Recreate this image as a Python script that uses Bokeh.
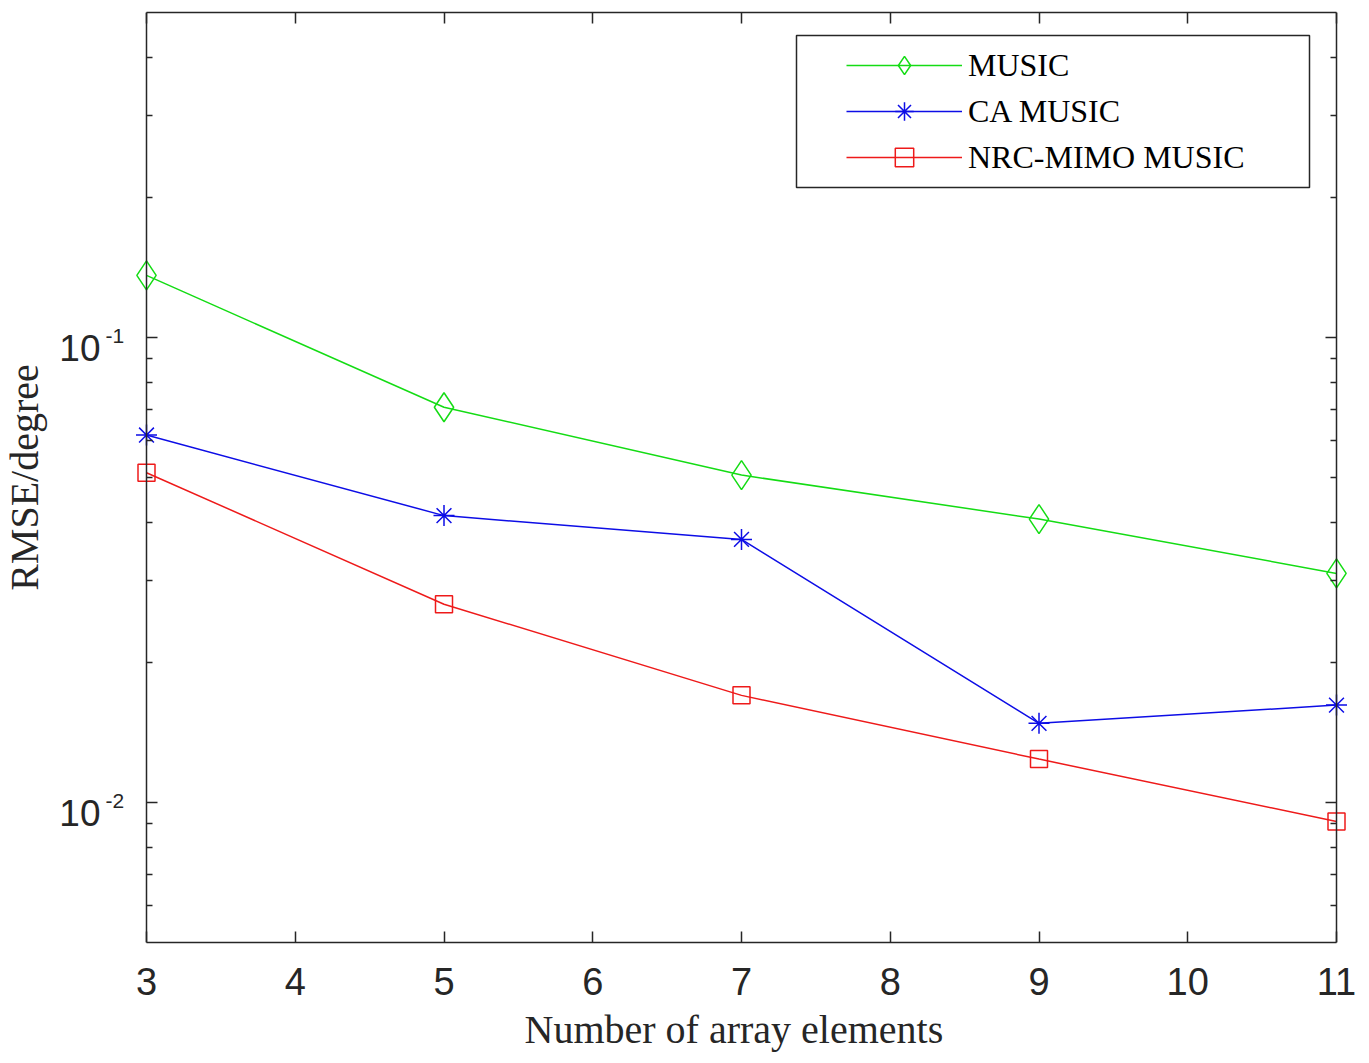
import math
from bokeh.plotting import figure
from bokeh.models import (FixedTicker, LogAxis, LinearAxis, Legend, LegendItem,
                          Label, BoxAnnotation, Range1d, CustomJSTickFormatter,
                          Title)
from bokeh.embed import file_html
from bokeh.resources import INLINE

# ---------------- data ----------------
elements = [3, 5, 7, 9, 11]
music = [0.136, 0.0708, 0.0506, 0.0407, 0.0311]
ca_music = [0.0617, 0.0414, 0.0368, 0.0148, 0.0162]
nrc_mimo_music = [0.0512, 0.0267, 0.0170, 0.0124, 0.0091]

x_ticks = [3, 4, 5, 6, 7, 8, 9, 10, 11]
x_lim = (3, 11)
y_lim = (0.005, 0.5)
y_major_ticks = [0.01, 0.1]
y_major_base = ["10", "10"]
y_major_exp = ["-2", "-1"]
y_minor_ticks = [0.006, 0.007, 0.008, 0.009,
                 0.02, 0.03, 0.04, 0.05, 0.06, 0.07, 0.08, 0.09,
                 0.2, 0.3, 0.4]
series_names = ["MUSIC", "CA MUSIC", "NRC-MIMO MUSIC"]
x_title = "Number of array elements"
y_title = "RMSE/degree"

AX = "#262626"
GREEN = "#14dc14"
BLUE = "#0d0de6"
RED = "#ee1a1a"
SANS = "Liberation Sans"
SERIF = "Liberation Serif"

# layout (pixels): axes box from 146 to 1336 horizontally; the frame spans
# the whole width so that edge markers and left-side texts are not clipped
W, H = 1369, 1063
BOX_L, BOX_R = 146, 1336
FRAME_R = 1354
ppu = (BOX_R - BOX_L) / (x_lim[1] - x_lim[0])
x_start = x_lim[0] - BOX_L / ppu
x_end = x_lim[1] + (FRAME_R - BOX_R) / ppu

p = figure(width=W, height=H, y_axis_type="log", y_axis_location="right",
           x_range=Range1d(x_start, x_end), y_range=Range1d(*y_lim),
           output_backend="svg", toolbar_location=None,
           min_border_left=0, min_border_right=W - FRAME_R,
           min_border_top=12, min_border_bottom=121,
           background_fill_color="white", border_fill_color="white")
p.grid.visible = False
p.outline_line_color = None

xt = FixedTicker(ticks=x_ticks)
yt = FixedTicker(ticks=y_major_ticks, minor_ticks=y_minor_ticks)
blank = CustomJSTickFormatter(code="return '';")


def style_axis(ax, tick_in=True, labels=True):
    ax.axis_line_color = AX
    ax.axis_line_width = 1.5
    ax.major_tick_line_color = AX
    ax.major_tick_line_width = 1.5
    ax.minor_tick_line_color = AX
    ax.minor_tick_line_width = 1.5
    if tick_in:
        ax.major_tick_in, ax.major_tick_out = 11, 0
        ax.minor_tick_in, ax.minor_tick_out = 6, 0
    else:
        ax.major_tick_in, ax.major_tick_out = 0, 11
        ax.minor_tick_in, ax.minor_tick_out = 0, 6
    if not labels:
        ax.formatter = blank
        ax.major_label_text_font_size = "8px"
        ax.major_label_standoff = 0


# bottom x axis
xa = p.xaxis[0]
xa.ticker = xt
xa.bounds = x_lim
style_axis(xa)
xa.minor_tick_line_color = None
xa.major_label_text_font = SANS
xa.major_label_text_font_size = "38px"
xa.major_label_text_color = AX
xa.major_label_standoff = 25

# x axis title, centred under the axes box
p.add_layout(Title(text=x_title, align="left", offset=524, standoff=14,
                   text_font=SERIF, text_font_size="40px",
                   text_font_style="normal", text_color=AX), "below")

# top mirror axis
top = LinearAxis(ticker=xt, bounds=x_lim)
style_axis(top, labels=False)
top.minor_tick_line_color = None
p.add_layout(top, "above")

# right axis at x = 11 (ticks inwards)
ra = p.yaxis[0]
ra.ticker = yt
ra.fixed_location = x_lim[1]
style_axis(ra, labels=False)

# left axis line at x = 3 (ticks pointing into the plot)
la = LogAxis(ticker=yt, fixed_location=x_lim[0])
style_axis(la, tick_in=False, labels=False)
p.add_layout(la, "right")

# y tick labels: "10" with superscript exponent
for t, b, e in zip(y_major_ticks, y_major_base, y_major_exp):
    p.add_layout(Label(x=x_lim[0], y=t, x_offset=-46, y_offset=-10, text=b,
                       text_font=SANS, text_font_size="37px",
                       text_color=AX, text_align="right",
                       text_baseline="middle"))
    p.add_layout(Label(x=x_lim[0], y=t, x_offset=-41, y_offset=2, text=e,
                       text_font=SANS, text_font_size="21px",
                       text_color=AX, text_align="left",
                       text_baseline="middle"))

# y axis title
p.add_layout(Label(x=x_lim[0], y=math.sqrt(y_lim[0] * y_lim[1]),
                   x_offset=-122, text=y_title, angle=math.pi / 2,
                   text_font=SERIF, text_font_size="40px", text_color=AX,
                   text_align="center", text_baseline="middle"))

# data
r1l = p.line(elements, music, line_color=GREEN, line_width=1.5)
r1m = p.scatter(elements, music, marker="diamond", size=29, line_color=GREEN,
                fill_color=None, line_width=1.5)
r2l = p.line(elements, ca_music, line_color=BLUE, line_width=1.5)
r2m = p.scatter(elements, ca_music, marker="asterisk", size=21, line_color=BLUE,
                line_width=1.5)
r3l = p.line(elements, nrc_mimo_music, line_color=RED, line_width=1.5)
r3m = p.scatter(elements, nrc_mimo_music, marker="square", size=17,
                line_color=RED, fill_color=None, line_width=1.5)

# legend frame (screen units, from the frame's bottom-left)
box = BoxAnnotation(left=796, right=1309, bottom=H - 121 - 187,
                    top=H - 121 - 35,
                    left_units="screen", right_units="screen",
                    bottom_units="screen", top_units="screen",
                    fill_color="white", fill_alpha=1.0,
                    line_color=AX, line_alpha=1.0, line_width=1.5,
                    level="underlay")
p.add_layout(box)

legend = Legend(items=[
    LegendItem(label=series_names[0], renderers=[r1l, r1m]),
    LegendItem(label=series_names[1], renderers=[r2l, r2m]),
    LegendItem(label=series_names[2], renderers=[r3l, r3m]),
], location=(846, H - 121 - 180), padding=0, spacing=0, margin=0,
    glyph_width=116, glyph_height=46, label_height=46, label_standoff=6,
    label_text_font=SERIF, label_text_font_size="32px",
    label_text_color="black", label_text_baseline="middle",
    background_fill_alpha=0, border_line_color=None)
p.add_layout(legend, "center")

open("out.html", "w").write(file_html(p, INLINE))
